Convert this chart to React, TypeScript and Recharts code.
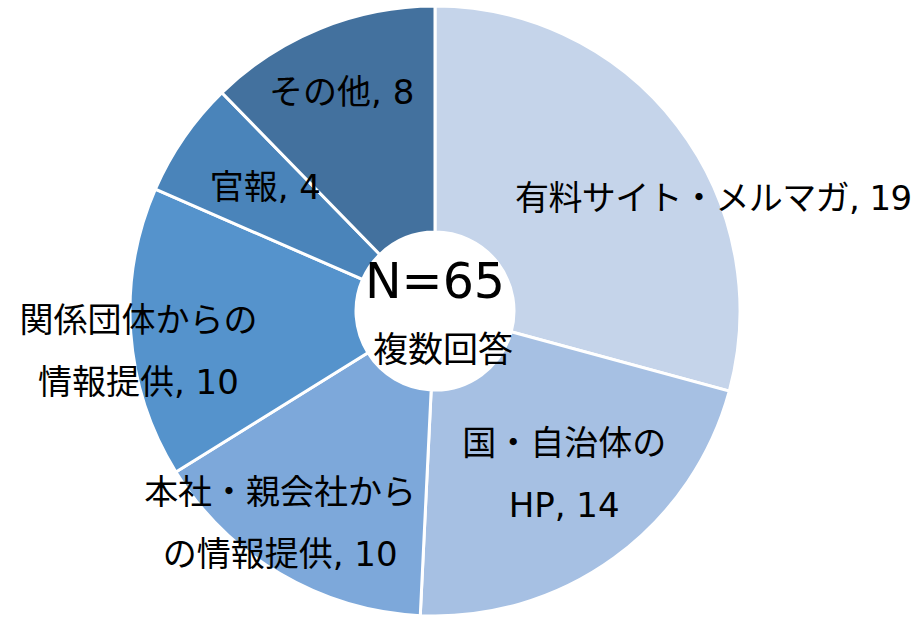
import React from 'react';
import { PieChart, Pie, Cell } from 'recharts';

const CATEGORIES = [
  '有料サイト・メルマガ',
  '国・自治体の\nHP',
  '本社・親会社から\nの情報提供',
  '関係団体からの\n情報提供',
  '官報',
  'その他',
];
const COUNTS = [19, 14, 10, 10, 4, 8];
const TOTAL_TEXT = 'N=65';
const NOTE_TEXT = '複数回答';

const COLORS = ['#C5D4EA', '#A6C0E3', '#7DA8DA', '#5593CC', '#4A84BA', '#43719E'];
// label nudges from the slice centroid, in px
const LABEL_SHIFT = [
  [128, 2],
  [18, 10],
  [-59, 49],
  [-108, 26],
  [-14, -17],
  [-22, -44],
];

const FONT = '"DejaVu Sans", "Noto Sans CJK JP", sans-serif';
const RAD = Math.PI / 180;

const data = CATEGORIES.map((name, i) => ({ name, value: COUNTS[i] }));

function renderLabel(props: any) {
  const { cx, cy, midAngle, outerRadius, index, name, value } = props;
  const r = outerRadius * 0.62;
  const x = cx + r * Math.cos(-midAngle * RAD) + LABEL_SHIFT[index][0];
  const y = cy + r * Math.sin(-midAngle * RAD) + LABEL_SHIFT[index][1];
  const lines = String(name).split('\n');
  lines[lines.length - 1] += ', ' + value;
  const gap = 62;
  const top = y - ((lines.length - 1) * gap) / 2;
  return (
    <g key={'lbl' + index}>
      <text
        x={x}
        y={top}
        textAnchor="middle"
        dominantBaseline="central"
        fill="#000"
        fontSize={34}
        fontFamily={FONT}
        letterSpacing={index === 0 ? -0.6 : 0}
      >
        {lines.map((ln, i) => (
          <tspan key={i} x={x} y={top + i * gap}>
            {ln}
          </tspan>
        ))}
      </text>
      {index === 0 && (
        <g>
          <text
            x={cx}
            y={cy - 30}
            textAnchor="middle"
            dominantBaseline="central"
            fontSize={49}
            fontFamily={FONT}
            fill="#000"
          >
            {TOTAL_TEXT}
          </text>
          <text
            x={cx + 8}
            y={cy + 39}
            textAnchor="middle"
            dominantBaseline="central"
            fontSize={35}
            fontFamily={FONT}
            fill="#000"
          >
            {NOTE_TEXT}
          </text>
        </g>
      )}
    </g>
  );
}

export default function App() {
  return (
    <div style={{ position: 'absolute', left: 0, top: 0, background: '#fff' }}>
      <PieChart width={922} height={618} margin={{ top: 0, right: 0, bottom: 0, left: 0 }}>
        <Pie
          data={data}
          dataKey="value"
          nameKey="name"
          cx={435}
          cy={311}
          innerRadius={79}
          outerRadius={305}
          startAngle={90}
          endAngle={-270}
          stroke="#fff"
          strokeWidth={3}
          label={renderLabel}
          labelLine={false}
          isAnimationActive={false}
        >
          {data.map((d, i) => (
            <Cell key={d.name} fill={COLORS[i]} />
          ))}
        </Pie>
      </PieChart>
    </div>
  );
}
